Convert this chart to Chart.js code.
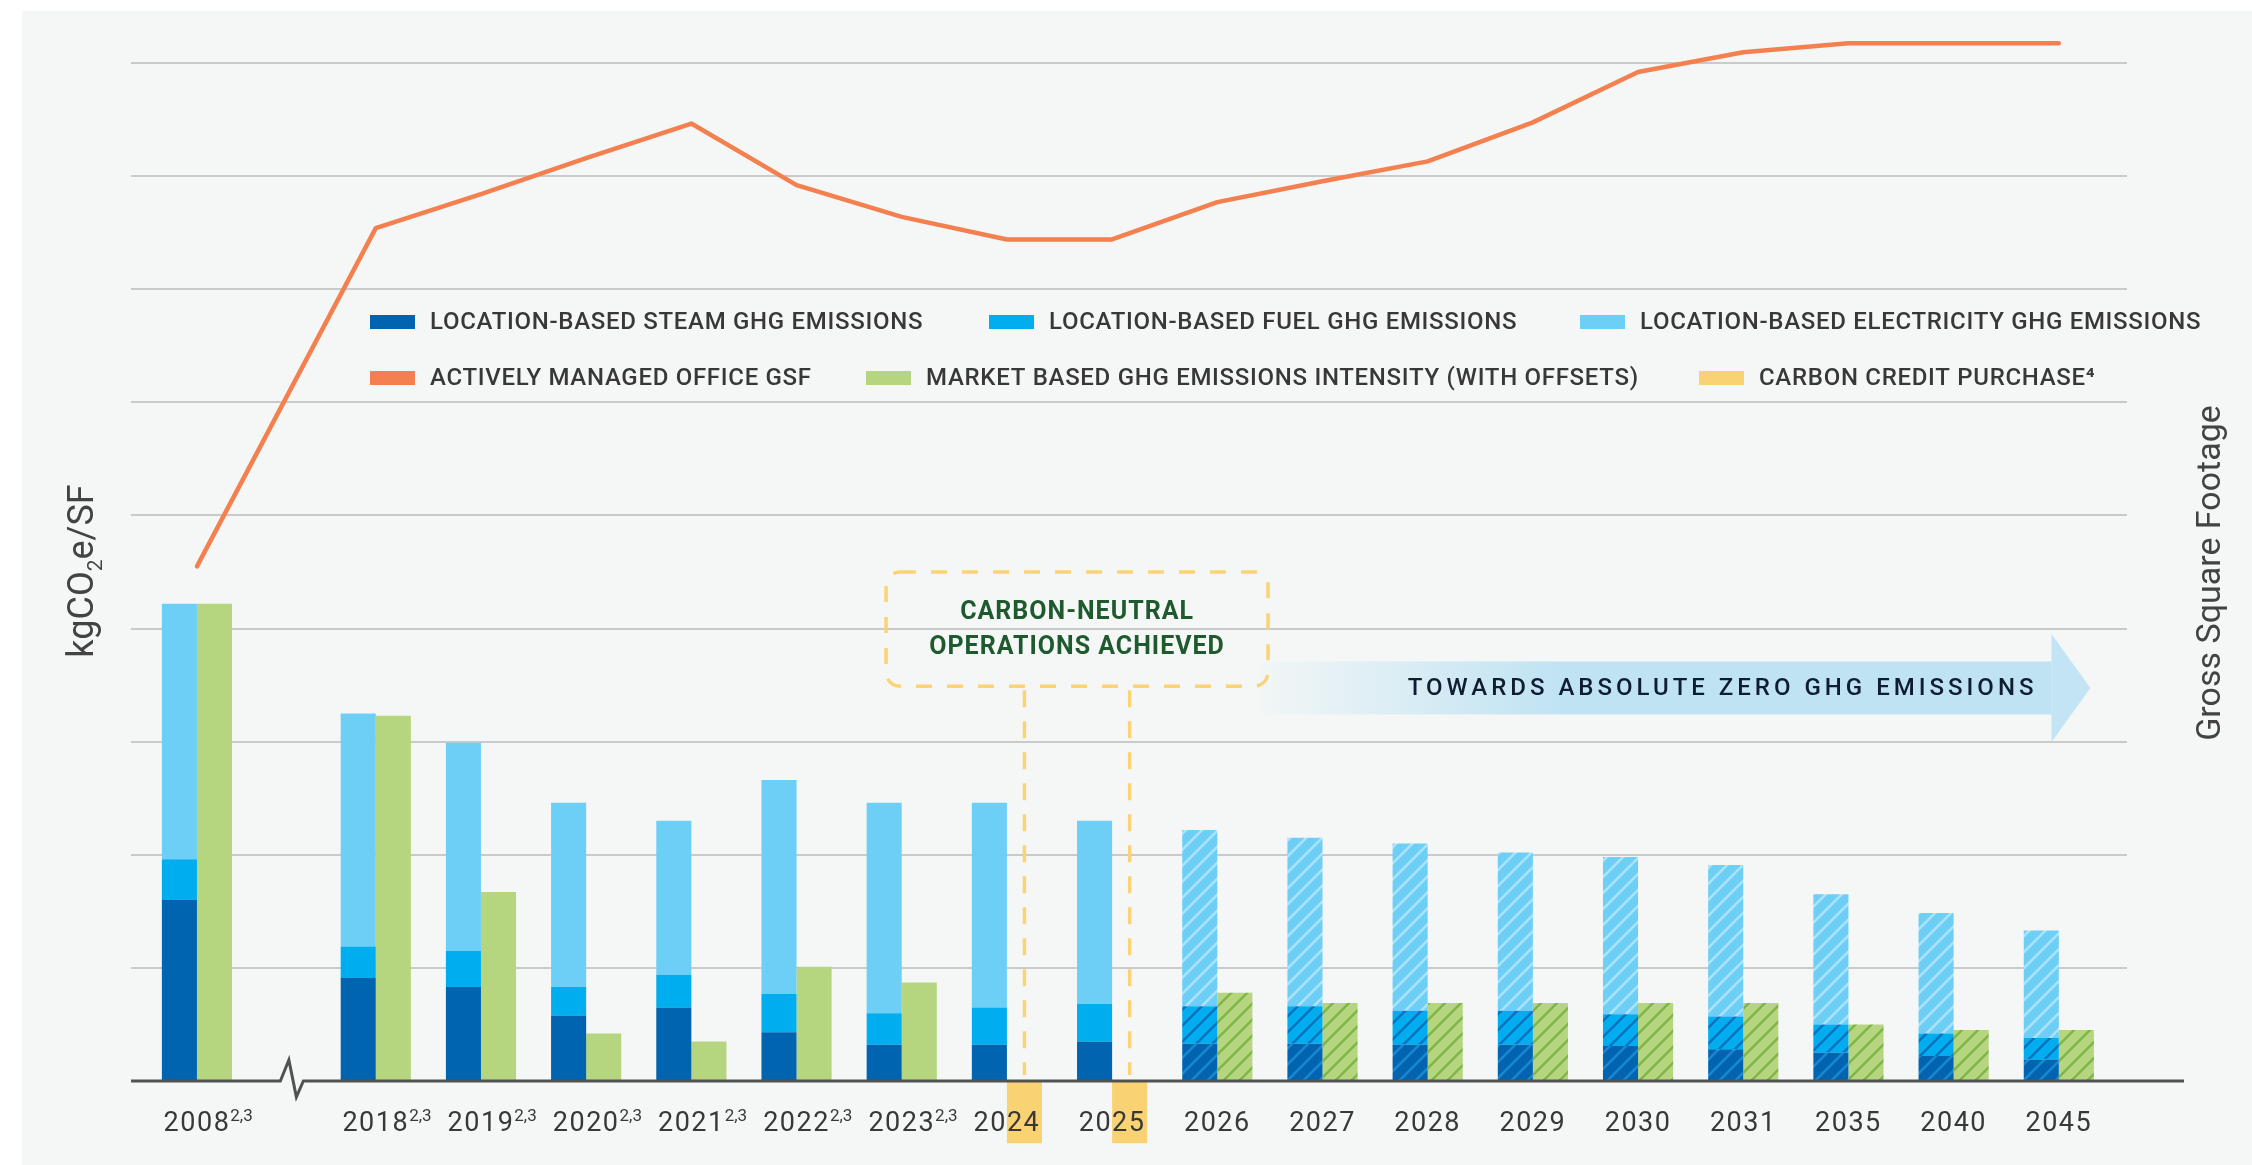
<!DOCTYPE html>
<html>
<head>
<meta charset="utf-8">
<title>Office GHG emissions intensity</title>
<script src="https://cdn.jsdelivr.net/npm/chart.js@4.4.1/dist/chart.umd.min.js"></script>
<style>
  html, body { margin: 0; padding: 0; background: #fff; overflow: hidden; }
  canvas { display: block; }
</style>
</head>
<body>
<canvas id="ghgChart" width="2252" height="1165"></canvas>
<script>
// reporting years; 2008 sits before an axis break
const years = ['2008', '2018', '2019', '2020', '2021', '2022', '2023', '2024', '2025', '2026', '2027', '2028', '2029', '2030', '2031', '2035', '2040', '2045'];
const yearNotes = ['2,3', '2,3', '2,3', '2,3', '2,3', '2,3', '2,3', '', '', '', '', '', '', '', '', '', '', ''];
const firstTargetYear = 2026;

// kgCO2e/SF, location-based components (stacked)
const steamGhg = [1.60, 0.91, 0.83, 0.58, 0.65, 0.43, 0.32, 0.32, 0.35, 0.33, 0.33, 0.32, 0.32, 0.31, 0.28, 0.25, 0.22, 0.19];
const fuelGhg = [0.36, 0.28, 0.32, 0.25, 0.29, 0.34, 0.28, 0.33, 0.33, 0.33, 0.33, 0.30, 0.30, 0.28, 0.29, 0.25, 0.20, 0.19];
const electricityGhg = [2.26, 2.06, 1.84, 1.63, 1.36, 1.89, 1.86, 1.81, 1.62, 1.56, 1.49, 1.48, 1.40, 1.39, 1.34, 1.15, 1.065, 0.95];

// market-based intensity with offsets, kgCO2e/SF
const marketGhg = [4.22, 3.23, 1.67, 0.42, 0.35, 1.01, 0.87, null, null, 0.78, 0.69, 0.69, 0.69, 0.69, 0.69, 0.50, 0.45, 0.45];

// carbon credit purchase, shown hanging below the axis
const creditPurchase = [null, null, null, null, null, null, null, -0.55, -0.55, null, null, null, null, null, null, null, null, null];

// actively managed office gross square footage, millions of SF
const officeGsf = [9.10, 15.08, 15.68, 16.32, 16.93, 15.84, 15.28, 14.88, 14.88, 15.54, 15.91, 16.26, 16.95, 17.84, 18.19, 18.35, 18.35, 18.35];

// x positions: one unit per year slot, with extra room for the break after 2008
const BREAK_GAP = 0.7;
const xPos = years.map((y, i) => (i === 0 ? 0 : i + BREAK_GAP));
const pts = arr => arr.map((v, i) => ({ x: xPos[i], y: v }));

const COLORS = {
    steam: '#0064b0',
    fuel: '#00adee',
    elec: '#6dcff6',
    market: '#b5d67f',
    gsf: '#f47f4f',
    credit: '#f9d273',
    text: '#383838'
};

function makeHatch(base, stripe) {
    const c = document.createElement('canvas');
    c.width = c.height = 16;
    const g = c.getContext('2d');
    g.fillStyle = base;
    g.fillRect(0, 0, 16, 16);
    g.strokeStyle = stripe;
    g.lineWidth = 2.4;
    g.beginPath();
    g.moveTo(-4, 20); g.lineTo(20, -4);
    g.moveTo(-4, 4); g.lineTo(4, -4);
    g.moveTo(12, 20); g.lineTo(20, 12);
    g.stroke();
    return g.createPattern(c, 'repeat');
}

// target years get a hatched fill
const fillFor = (solid, hatch) => ctx =>
    (ctx.dataIndex !== undefined && +years[ctx.dataIndex] >= firstTargetYear) ? hatch : solid;

const hatches = {
    steam: makeHatch(COLORS.steam, '#1a88d2'),
    fuel: makeHatch(COLORS.fuel, '#0a72c0'),
    elec: makeHatch(COLORS.elec, '#ade4f9'),
    market: makeHatch(COLORS.market, '#7fb548')
};

const backdrop = {
    id: 'backdrop',
    beforeDraw(chart) {
        const { ctx, width, height } = chart;
        ctx.save();
        ctx.fillStyle = '#ffffff';
        ctx.fillRect(0, 0, width, height);
        ctx.fillStyle = '#f5f7f6';
        ctx.fillRect(22, 11, width - 22, height - 11);
        ctx.restore();
    }
};

const gridLines = {
    id: 'gridLines',
    beforeDatasetsDraw(chart) {
        const { ctx, chartArea, scales: { y } } = chart;
        ctx.save();
        ctx.strokeStyle = '#cacaca';
        ctx.lineWidth = 2;
        for (let v = 1; v <= 9; v++) {
            const py = Math.round(y.getPixelForValue(v));
            ctx.beginPath();
            ctx.moveTo(chartArea.left, py);
            ctx.lineTo(chartArea.right - 57, py);
            ctx.stroke();
        }
        ctx.restore();
    }
};

function spacedText(ctx, text, x, y, spacing) {
    ctx.letterSpacing = spacing + 'px';
    ctx.fillText(text, x, y);
    ctx.letterSpacing = '0px';
}

function roundRect(ctx, x, y, w, h, r) {
    ctx.beginPath();
    ctx.moveTo(x + r, y);
    ctx.arcTo(x + w, y, x + w, y + h, r);
    ctx.arcTo(x + w, y + h, x, y + h, r);
    ctx.arcTo(x, y + h, x, y, r);
    ctx.arcTo(x, y, x + w, y, r);
    ctx.closePath();
}

const annotations = {
    id: 'annotations',
    afterDatasetsDraw(chart) {
        const { ctx, chartArea, scales: { x, y } } = chart;
        const base = y.getPixelForValue(0);
        ctx.save();

        // carbon-neutral callout tied to the credit purchase bars
        const creditBars = chart.getDatasetMeta(4).data.filter((b, i) => creditPurchase[i] !== null);
        const boxCx = creditBars.reduce((s, b) => s + b.x, 0) / creditBars.length;
        const boxTop = y.getPixelForValue(4.5);
        const boxBottom = y.getPixelForValue(3.49);
        const boxW = 382;

        ctx.strokeStyle = '#fbd374';
        ctx.lineWidth = 3.5;
        ctx.setLineDash([17, 14]);
        creditBars.forEach(b => {
            ctx.beginPath();
            ctx.moveTo(b.x, boxBottom + 4);
            ctx.lineTo(b.x, base - 6);
            ctx.stroke();
        });
        ctx.setLineDash([16, 15]);
        roundRect(ctx, boxCx - boxW / 2, boxTop, boxW, boxBottom - boxTop, 14);
        ctx.stroke();
        ctx.setLineDash([]);

        ctx.fillStyle = '#1f5a2f';
        ctx.font = 'bold 25px Roboto';
        ctx.textAlign = 'center';
        ctx.textBaseline = 'middle';
        spacedText(ctx, 'CARBON-NEUTRAL', boxCx, boxTop + 41, 1);
        spacedText(ctx, 'OPERATIONS ACHIEVED', boxCx, boxTop + 76, 1);

        // arrow toward absolute zero
        const last = xPos.length - 1;
        const first = years.indexOf(String(firstTargetYear));
        const ax0 = x.getPixelForValue(xPos[first] + 0.39);
        const ax1 = x.getPixelForValue(xPos[last] - 0.07);
        const tip = x.getPixelForValue(xPos[last] + 0.30);
        const ay = y.getPixelForValue(3.475);
        const grad = ctx.createLinearGradient(ax0, 0, ax1, 0);
        grad.addColorStop(0, 'rgba(192, 227, 243, 0.05)');
        grad.addColorStop(0.38, 'rgba(192, 227, 243, 1)');
        grad.addColorStop(1, 'rgba(192, 227, 243, 1)');
        ctx.fillStyle = grad;
        ctx.fillRect(ax0, ay - 26.5, ax1 - ax0, 53);
        ctx.fillStyle = '#c2e4f4';
        ctx.beginPath();
        ctx.moveTo(ax1, ay - 54);
        ctx.lineTo(tip, ay);
        ctx.lineTo(ax1, ay + 54);
        ctx.closePath();
        ctx.fill();

        ctx.fillStyle = '#0f1d30';
        ctx.font = '500 24px Roboto';
        ctx.textAlign = 'right';
        spacedText(ctx, 'TOWARDS ABSOLUTE ZERO GHG EMISSIONS', ax1 - 14, ay + 1, 4);

        // baseline with the axis break between 2008 and 2018
        const bx = (x.getPixelForValue(xPos[0]) + x.getPixelForValue(xPos[1])) / 2;
        ctx.strokeStyle = '#525252';
        ctx.lineWidth = 3;
        ctx.lineJoin = 'miter';
        ctx.beginPath();
        ctx.moveTo(chartArea.left, base);
        ctx.lineTo(bx - 6, base);
        ctx.lineTo(bx + 2.5, base - 21);
        ctx.lineTo(bx + 10, base + 16);
        ctx.lineTo(bx + 17, base);
        ctx.lineTo(chartArea.right, base);
        ctx.stroke();
        ctx.restore();
    },
    afterDraw(chart) {
        const { ctx, scales: { x } } = chart;
        ctx.save();
        ctx.fillStyle = COLORS.text;
        ctx.textBaseline = 'alphabetic';
        ctx.textAlign = 'left';

        // year labels with footnote marks
        years.forEach((yr, i) => {
            const cx = x.getPixelForValue(xPos[i]);
            ctx.font = '27px Roboto';
            ctx.letterSpacing = '1.5px';
            const w = ctx.measureText(yr).width;
            const x0 = cx - w / 2;
            ctx.fillText(yr, x0, 1131);
            ctx.letterSpacing = '0px';
            if (yearNotes[i]) {
                ctx.font = '17px Roboto';
                ctx.fillText(yearNotes[i], x0 + w, 1121);
            }
        });

        // legend
        const legend = [
            { ds: 0, x: 370, y: 322 }, { ds: 1, x: 989, y: 322 }, { ds: 2, x: 1580, y: 322 },
            { ds: 5, x: 370, y: 378 }, { ds: 3, x: 866, y: 378 }, { ds: 4, x: 1699, y: 378 }
        ];
        ctx.font = '500 24px Roboto';
        ctx.textBaseline = 'middle';
        legend.forEach(item => {
            const d = chart.data.datasets[item.ds];
            ctx.fillStyle = d.legendColor;
            ctx.fillRect(item.x, item.y - 7, 45, 14);
            ctx.fillStyle = COLORS.text;
            spacedText(ctx, d.label, item.x + 60, item.y + 1, 0.7);
        });

        // axis titles
        ctx.fillStyle = '#434343';
        ctx.textBaseline = 'alphabetic';
        ctx.save();
        ctx.translate(93, 571);
        ctx.rotate(-Math.PI / 2);
        const parts = [['kgCO', 36, 0], ['2', 21, 9], ['e/SF', 36, 0]];
        let total = 0;
        parts.forEach(p => { ctx.font = p[1] + 'px Roboto'; total += ctx.measureText(p[0]).width; });
        let tx = -total / 2;
        parts.forEach(p => {
            ctx.font = p[1] + 'px Roboto';
            ctx.fillText(p[0], tx, p[2]);
            tx += ctx.measureText(p[0]).width;
        });
        ctx.restore();

        ctx.save();
        ctx.translate(2220, 573);
        ctx.rotate(-Math.PI / 2);
        ctx.textAlign = 'center';
        ctx.font = '34px Roboto';
        ctx.fillText('Gross Square Footage', 0, 0);
        ctx.restore();

        ctx.restore();
    }
};

new Chart(document.getElementById('ghgChart'), {
    type: 'bar',
    data: {
        datasets: [
            { label: 'LOCATION-BASED STEAM GHG EMISSIONS', data: pts(steamGhg), stack: 'location', legendColor: COLORS.steam, backgroundColor: fillFor(COLORS.steam, hatches.steam), order: 1 },
            { label: 'LOCATION-BASED FUEL GHG EMISSIONS', data: pts(fuelGhg), stack: 'location', legendColor: COLORS.fuel, backgroundColor: fillFor(COLORS.fuel, hatches.fuel), order: 1 },
            { label: 'LOCATION-BASED ELECTRICITY GHG EMISSIONS', data: pts(electricityGhg), stack: 'location', legendColor: COLORS.elec, backgroundColor: fillFor(COLORS.elec, hatches.elec), order: 1 },
            { label: 'MARKET BASED GHG EMISSIONS INTENSITY (WITH OFFSETS)', data: pts(marketGhg), stack: 'market', legendColor: COLORS.market, backgroundColor: fillFor(COLORS.market, hatches.market), order: 1 },
            { label: 'CARBON CREDIT PURCHASE\u2074', data: pts(creditPurchase), stack: 'market', legendColor: COLORS.credit, backgroundColor: COLORS.credit, order: 1, clip: false },
            {
                type: 'line', label: 'ACTIVELY MANAGED OFFICE GSF', data: pts(officeGsf), yAxisID: 'y2',
                legendColor: COLORS.gsf, borderColor: COLORS.gsf, borderWidth: 4.5, pointRadius: 0,
                tension: 0, clip: false, order: 0, borderCapStyle: 'round', borderJoinStyle: 'round'
            }
        ]
    },
    options: {
        responsive: false,
        animation: false,
        layout: { padding: { left: 131, right: 68, top: 63, bottom: 84 } },
        datasets: { bar: { categoryPercentage: 0.667, barPercentage: 1, borderWidth: 0 } },
        scales: {
            x: {
                type: 'linear', display: false, offset: false, min: -0.627, max: 18.89,
                afterBuildTicks: s => { s.ticks = xPos.map(v => ({ value: v })); }
            },
            y: { display: false, min: 0, max: 9, stacked: true },
            y2: { display: false, min: 0, max: 18, position: 'right' }
        },
        plugins: {
            legend: { display: false },
            tooltip: { enabled: true }
        }
    },
    plugins: [backdrop, gridLines, annotations]
});
</script>
</body>
</html>
